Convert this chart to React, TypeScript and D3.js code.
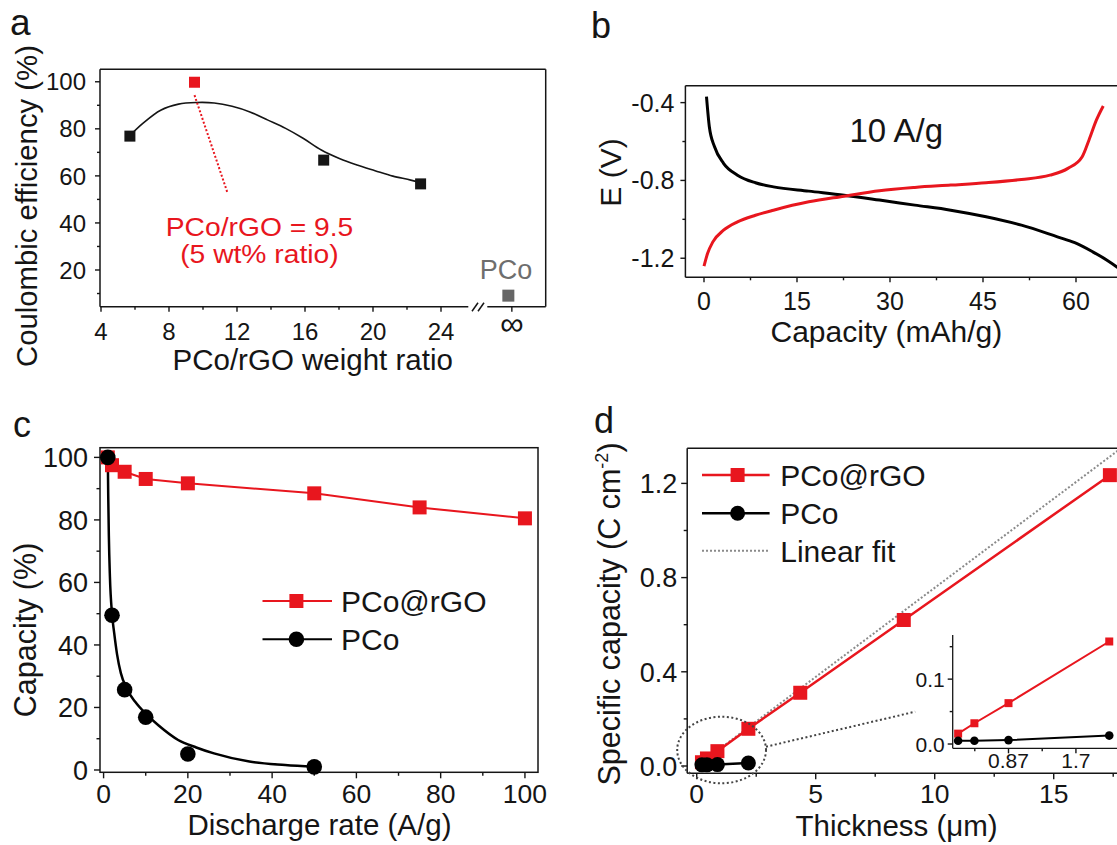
import React from "react";
import * as d3 from "d3";

const W = 1117;
const H = 845;
const RED = "#e8161e";
const INK = "#151515";
const FONT = "'Liberation Sans', Arial, Helvetica, sans-serif";

// ---------- Panel a data ----------
const aRatio = [5.7, 17.1, 22.8];
const aCE = [76.9, 66.7, 56.6];
const aBestRatio = [9.5];
const aBestCE = [99.8];
const aPCoCat = ["∞"];
const aPCoCE = [9.1];
const aFitX = [5.75, 6.46, 7.51, 8.56, 9.61, 10.66, 11.71, 12.76, 13.82, 14.86, 15.91, 16.96, 18.02, 19.06, 20.12, 21.17, 22.22, 22.9];
const aFitY = [77.5, 82.3, 87.9, 90.5, 91.2, 91.0, 89.6, 87.2, 83.7, 80.2, 75.9, 71.0, 67.4, 64.6, 62.2, 59.9, 58.2, 56.8];
const aLeaderX = [9.5, 11.45];
const aLeaderY = [94.3, 52.6];
const aXTicks = [4, 8, 12, 16, 20, 24];
const aXMinor = [6, 10, 14, 18, 22];
const aYTicks = [20, 40, 60, 80, 100];
const aYMinor = [10, 30, 50, 70, 90];

// ---------- Panel b data ----------
const bDisX = [0.4, 0.86, 1.7, 3.15, 5.4, 8.3, 11.2, 16.9, 22.6, 28.3, 34, 39.8, 45.5, 51.2, 57, 59.8, 62.7, 65, 66.6, 68];
const bDisY = [-0.369, -0.524, -0.627, -0.712, -0.773, -0.812, -0.833, -0.855, -0.876, -0.901, -0.927, -0.953, -0.987, -1.03, -1.09, -1.12, -1.167, -1.21, -1.245, -1.28];
const bChgX = [0, 0.57, 1.43, 3.15, 5.4, 8.3, 11.2, 16.9, 22.6, 28.3, 34, 39.8, 45.5, 51.2, 55.8, 58.7, 61, 62.1, 63.3, 64.4];
const bChgY = [-1.241, -1.176, -1.116, -1.056, -1.013, -0.979, -0.953, -0.91, -0.881, -0.853, -0.836, -0.824, -0.812, -0.795, -0.773, -0.738, -0.678, -0.592, -0.489, -0.417];
const bXTicks = [0, 15, 30, 45, 60];
const bXMinor = [7.5, 22.5, 37.5, 52.5, 67.5];
const bYTicks = [-1.2, -0.8, -0.4];
const bYMinor = [-1.0, -0.6];

// ---------- Panel c data ----------
const cRateRed = [1, 2, 5, 10, 20, 50, 75, 100];
const cCapRed = [100, 97.5, 95.4, 93.1, 91.7, 88.5, 84.0, 80.5];
const cRateBlack = [1, 2, 5, 10, 20, 50];
const cCapBlack = [100, 49.5, 25.7, 16.9, 5.1, 1.0];
const cFitX = [1.0, 1.1, 1.25, 1.5, 2.0, 2.5, 3.2, 4.1, 5.5, 7.5, 10, 13, 17.7, 22, 26.2, 34.6, 43.1, 50];
const cFitY = [100, 88, 75, 62, 50, 44, 37, 31, 26, 21.8, 18, 14.3, 9.6, 7.2, 5.3, 2.7, 1.6, 1.0];
const cXTicks = [0, 20, 40, 60, 80, 100];
const cXMinor = [10, 30, 50, 70, 90];
const cYTicks = [0, 20, 40, 60, 80, 100];
const cYMinor = [10, 30, 50, 70, 90];

// ---------- Panel d data ----------
const dThick = [0.22, 0.43, 0.87, 2.17, 4.35, 8.7, 17.36];
const dCapRed = [0.016, 0.032, 0.063, 0.158, 0.311, 0.62, 1.235];
const dThickBlack = [0.22, 0.43, 0.87, 2.17];
const dCapBlack = [0.005, 0.005, 0.006, 0.013];
const dFitX = [0, 17.8];
const dFitY = [0, 1.347];
const dXTicks = [0, 5, 10, 15];
const dXMinor = [2.5, 7.5, 12.5, 17.5];
const dYTicks = [0, 0.4, 0.8, 1.2];
const dYMinor = [0.2, 0.6, 1.0];
const iXTicks = [0.87, 1.74];
const iXLabels = ["0.87", "1.7"];
const iXMinor = [0.435, 1.305];
const iYTicks = [0, 0.1];
const iYMinor = [0.05, 0.15];

type TP = {
  x: number; y: number; size: number; children: React.ReactNode;
  anchor?: "start" | "middle" | "end"; fill?: string; rotate?: number; sx?: number;
};
function T({ x, y, size, children, anchor = "start", fill = INK, rotate = 0, sx = 1 }: TP) {
  const tr = `translate(${x},${y})` + (rotate ? ` rotate(${rotate})` : "") + (sx !== 1 ? ` scale(${sx},1)` : "");
  return (
    <text transform={tr} fontSize={size} textAnchor={anchor} fill={fill} fontFamily={FONT}>
      {children}
    </text>
  );
}

function LeftTicks({ x, scale, major, minor, fmt, size, gap = 12, len = 6, mlen = 3.5 }: any) {
  return (
    <g>
      {major.map((v: number, i: number) => (
        <g key={"M" + i}>
          <line x1={x - len} x2={x} y1={scale(v)} y2={scale(v)} stroke={INK} strokeWidth={1.4} />
          <T x={x - gap} y={scale(v) + size * 0.36} size={size} anchor="end">{fmt(v)}</T>
        </g>
      ))}
      {minor.map((v: number, i: number) => (
        <line key={"m" + i} x1={x - mlen} x2={x} y1={scale(v)} y2={scale(v)} stroke={INK} strokeWidth={1.4} />
      ))}
    </g>
  );
}

function BottomTicks({ y, scale, major, minor, fmt, size, base, len = 6, mlen = 3.5, labels }: any) {
  return (
    <g>
      {major.map((v: number, i: number) => (
        <g key={"M" + i}>
          <line x1={scale(v)} x2={scale(v)} y1={y} y2={y + len} stroke={INK} strokeWidth={1.4} />
          <T x={scale(v)} y={base} size={size} anchor="middle">{labels ? labels[i] : fmt(v)}</T>
        </g>
      ))}
      {minor.map((v: number, i: number) => (
        <line key={"m" + i} x1={scale(v)} x2={scale(v)} y1={y} y2={y + mlen} stroke={INK} strokeWidth={1.4} />
      ))}
    </g>
  );
}

function Square({ cx, cy, s, fill }: { cx: number; cy: number; s: number; fill: string }) {
  return <rect x={cx - s / 2} y={cy - s / 2} width={s} height={s} fill={fill} />;
}

export default function App() {
  // ---------- scales a ----------
  const aL = 100, aR = 545.7, aT = 69.3, aB = 306.7;
  const xA = d3.scaleLinear().domain([4, 24]).range([101, 441]);
  const xAInf = d3.scalePoint<string>().domain(aPCoCat).range([478, aR]).padding(0.5);
  const yA = d3.scaleLinear().domain([4.4, 105.3]).range([aB, aT]);
  const aFit = d3.line<number>().x((_, i) => xA(aFitX[i])).y((d) => yA(d)).curve(d3.curveCatmullRom.alpha(0.5))(aFitY) || "";
  const aLeader = d3.line<number>().x((_, i) => xA(aLeaderX[i])).y((d) => yA(d))(aLeaderY) || "";
  const breakX = 478;

  // ---------- scales b ----------
  const bL = 685.4, bT = 85.7, bB = 277.3;
  const xB = d3.scaleLinear().domain([-3, 70]).range([bL, bL + 73 * 6.2]);
  const yB = d3.scaleLinear().domain([-1.298, -0.313]).range([bB, bT]);
  const bDis = d3.line<number>().x((_, i) => xB(bDisX[i])).y((d) => yB(d)).curve(d3.curveMonotoneX)(bDisY) || "";
  const bChg = d3.line<number>().x((_, i) => xB(bChgX[i])).y((d) => yB(d)).curve(d3.curveMonotoneX)(bChgY) || "";

  // ---------- scales c ----------
  const cL = 100, cR = 538, cT = 447.7, cB = 772.3;
  const xC = d3.scaleLinear().domain([-0.85, 103.1]).range([cL, cR]);
  const yC = d3.scaleLinear().domain([-0.74, 103.1]).range([cB, cT]);
  const cRedPath = d3.line<number>().x((_, i) => xC(cRateRed[i])).y((d) => yC(d))(cCapRed) || "";
  const cFitPath = d3.line<number>().x((_, i) => xC(cFitX[i])).y((d) => yC(d)).curve(d3.curveMonotoneX)(cFitY) || "";

  // ---------- scales d ----------
  const dL = 687.2, dT = 448.3, dB = 773.3;
  const xD = d3.scaleLinear().domain([-0.4, 18.8]).range([dL, dL + 19.2 * 23.8]);
  const yD = d3.scaleLinear().domain([-0.031, 1.349]).range([dB, dT]);
  const dRedPath = d3.line<number>().x((_, i) => xD(dThick[i])).y((d) => yD(d))(dCapRed) || "";
  const dBlackPath = d3.line<number>().x((_, i) => xD(dThickBlack[i])).y((d) => yD(d))(dCapBlack) || "";
  const dFitPath = d3.line<number>().x((_, i) => xD(dFitX[i])).y((d) => yD(d))(dFitY) || "";
  // inset
  const iL = 952.7, iB = 748.3, iT = 635;
  const xI = d3.scaleLinear().domain([0.15, 2.27]).range([iL, W]);
  const yI = d3.scaleLinear().domain([-0.0066, 0.168]).range([iB, iT]);
  const iRedPath = d3.line<number>().x((_, i) => xI(dThick[i])).y((d) => yI(d))(dCapRed.slice(0, 4)) || "";
  const iBlackPath = d3.line<number>().x((_, i) => xI(dThickBlack[i])).y((d) => yI(d))(dCapBlack) || "";

  const fmt0 = (v: number) => String(v);
  const fmt1 = (v: number) => v.toFixed(1);

  return (
    <svg
      width={W}
      height={H}
      viewBox={`0 0 ${W} ${H}`}
      style={{ position: "absolute", left: 0, top: 0, background: "#fff" }}
      fontFamily={FONT}
    >
      <defs>
        <clipPath id="clipB">
          <rect x={bL} y={bT} width={W - bL} height={bB - bT} />
        </clipPath>
      </defs>
      <rect x={0} y={0} width={W} height={H} fill="#fff" />

      {/* ================= Panel a ================= */}
      <T x={10} y={35} size={37}>a</T>
      <g stroke={INK} strokeWidth={1.5} fill="none">
        <line x1={aL} x2={aR} y1={aT} y2={aT} />
        <line x1={aL} x2={aL} y1={aT} y2={aB} />
        <line x1={aR} x2={aR} y1={aT} y2={aB} />
        <line x1={aL} x2={breakX - 9.7} y1={aB} y2={aB} />
        <line x1={breakX + 9.3} x2={aR} y1={aB} y2={aB} />
        <line x1={breakX - 6} x2={breakX} y1={aB + 4.5} y2={aB - 4} />
        <line x1={breakX} x2={breakX + 6} y1={aB + 4.5} y2={aB - 4} />
      </g>
      <LeftTicks x={aL} scale={yA} major={aYTicks} minor={aYMinor} fmt={fmt0} size={24} gap={14} len={5} mlen={3} />
      <BottomTicks y={aB} scale={xA} major={aXTicks} minor={aXMinor} fmt={fmt0} size={24} base={339.5} len={5} mlen={3} />
      {aPCoCat.map((c) => (
        <g key={c}>
          <line x1={xAInf(c)} x2={xAInf(c)} y1={aB} y2={aB + 5} stroke={INK} strokeWidth={1.4} />
          <T x={xAInf(c)!} y={335} size={33} anchor="middle">{c}</T>
        </g>
      ))}
      <path d={aFit} fill="none" stroke={INK} strokeWidth={1.6} />
      <path d={aLeader} fill="none" stroke={RED} strokeWidth={2} strokeDasharray="2,2" />
      {aRatio.map((r, i) => (
        <Square key={i} cx={xA(r)} cy={yA(aCE[i])} s={11} fill={INK} />
      ))}
      {aBestRatio.map((r, i) => (
        <Square key={i} cx={xA(r)} cy={yA(aBestCE[i])} s={11} fill={RED} />
      ))}
      {aPCoCat.map((c, i) => (
        <Square key={c} cx={xAInf(c)! - 3.5} cy={yA(aPCoCE[i])} s={12} fill="#666" />
      ))}
      <T x={506} y={279.3} size={27} anchor="middle" fill="#6e6e6e">PCo</T>
      <T x={259.5} y={235.7} size={25} anchor="middle" fill={RED} sx={1.13}>PCo/rGO = 9.5</T>
      <T x={259.4} y={262.5} size={25} anchor="middle" fill={RED} sx={1.13}>(5 wt% ratio)</T>
      <T x={312.7} y={370} size={29.5} anchor="middle">PCo/rGO weight ratio</T>
      <T x={37} y={206} size={29.3} anchor="middle" rotate={-90}>Coulombic efficiency (%)</T>

      {/* ================= Panel b ================= */}
      <T x={591} y={38} size={36}>b</T>
      <g stroke={INK} strokeWidth={1.5}>
        <line x1={bL} x2={W} y1={bT} y2={bT} />
        <line x1={bL} x2={bL} y1={bT} y2={bB} />
        <line x1={bL} x2={W} y1={bB} y2={bB} />
      </g>
      <LeftTicks x={bL} scale={yB} major={bYTicks} minor={bYMinor} fmt={fmt1} size={25} gap={11} len={5} mlen={3} />
      <BottomTicks y={bB} scale={xB} major={bXTicks} minor={bXMinor} fmt={fmt0} size={25} base={310} len={5} mlen={3} />
      <g clipPath="url(#clipB)">
        <path d={bDis} fill="none" stroke="#000" strokeWidth={3} />
        <path d={bChg} fill="none" stroke={RED} strokeWidth={3} />
      </g>
      <T x={849.5} y={141.7} size={33}>10 A/g</T>
      <T x={886.4} y={341.7} size={30} anchor="middle">Capacity (mAh/g)</T>
      <T x={621} y={172.5} size={30} anchor="middle" rotate={-90}>E (V)</T>

      {/* ================= Panel c ================= */}
      <T x={13} y={437} size={36}>c</T>
      <rect x={cL} y={cT} width={cR - cL} height={cB - cT} fill="none" stroke={INK} strokeWidth={1.5} />
      <LeftTicks x={cL} scale={yC} major={cYTicks} minor={cYMinor} fmt={fmt0} size={27} gap={12} len={6} mlen={3.5} />
      <BottomTicks y={cB} scale={xC} major={cXTicks} minor={cXMinor} fmt={fmt0} size={26.5} base={803} len={6} mlen={3.5} />
      <path d={cRedPath} fill="none" stroke={RED} strokeWidth={2} />
      <path d={cFitPath} fill="none" stroke="#000" strokeWidth={2.5} />
      {cRateRed.map((r, i) => (
        <Square key={i} cx={xC(r)} cy={yC(cCapRed[i])} s={14} fill={RED} />
      ))}
      {cRateBlack.map((r, i) => (
        <circle key={i} cx={xC(r)} cy={yC(cCapBlack[i])} r={7.8} fill="#000" />
      ))}
      {/* legend c */}
      <line x1={262.5} x2={332} y1={601} y2={601} stroke={RED} strokeWidth={2} />
      <Square cx={296.4} cy={601} s={14} fill={RED} />
      <T x={341} y={611.7} size={30}>PCo@rGO</T>
      <line x1={262.5} x2={332} y1={639.3} y2={639.3} stroke="#000" strokeWidth={2} />
      <circle cx={296.4} cy={639.3} r={7.8} fill="#000" />
      <T x={341} y={650} size={30}>PCo</T>
      <T x={319.5} y={835} size={29.5} anchor="middle">Discharge rate (A/g)</T>
      <T x={36} y={630} size={30.5} anchor="middle" rotate={-90}>Capacity (%)</T>

      {/* ================= Panel d ================= */}
      <T x={594} y={433} size={36}>d</T>
      <g stroke={INK} strokeWidth={1.5}>
        <line x1={dL} x2={W} y1={dT} y2={dT} />
        <line x1={dL} x2={dL} y1={dT} y2={dB} />
        <line x1={dL} x2={W} y1={dB} y2={dB} />
      </g>
      <LeftTicks x={dL} scale={yD} major={dYTicks} minor={dYMinor} fmt={fmt1} size={27} gap={10} len={6} mlen={3.5} />
      <BottomTicks y={dB} scale={xD} major={dXTicks} minor={dXMinor} fmt={fmt0} size={26.5} base={803} len={6} mlen={3.5} />
      <path d={dFitPath} fill="none" stroke="#8a8a8a" strokeWidth={2} strokeDasharray="2,2" />
      <path d={dRedPath} fill="none" stroke={RED} strokeWidth={2.5} />
      <path d={dBlackPath} fill="none" stroke="#000" strokeWidth={2.5} />
      {dThick.map((t, i) => (
        <Square key={i} cx={xD(t)} cy={yD(dCapRed[i])} s={14} fill={RED} />
      ))}
      {dThickBlack.map((t, i) => (
        <circle key={i} cx={xD(t)} cy={yD(dCapBlack[i])} r={7.5} fill="#000" />
      ))}
      {/* zoom marker */}
      <ellipse cx={721.6} cy={750} rx={44.4} ry={33.3} fill="none" stroke="#444" strokeWidth={2} strokeDasharray="2,2.5" />
      <line x1={766} y1={746.7} x2={915.2} y2={711.7} stroke="#444" strokeWidth={2} strokeDasharray="2,2.5" />
      {/* inset */}
      <g stroke={INK} strokeWidth={1.3}>
        <line x1={iL} x2={iL} y1={iT} y2={iB} />
        <line x1={iL} x2={W} y1={iB} y2={iB} />
      </g>
      <LeftTicks x={iL} scale={yI} major={iYTicks} minor={iYMinor} fmt={fmt1} size={21} gap={8} len={5} mlen={3} />
      <BottomTicks y={iB} scale={xI} major={iXTicks} minor={iXMinor} fmt={fmt0} labels={iXLabels} size={21} base={768.3} len={5} mlen={3} />
      <path d={iRedPath} fill="none" stroke={RED} strokeWidth={2} />
      <path d={iBlackPath} fill="none" stroke="#000" strokeWidth={2} />
      {dThick.slice(0, 4).map((t, i) => (
        <Square key={i} cx={xI(t)} cy={yI(dCapRed[i])} s={8} fill={RED} />
      ))}
      {dThickBlack.map((t, i) => (
        <circle key={i} cx={xI(t)} cy={yI(dCapBlack[i])} r={4.3} fill="#000" />
      ))}
      {/* legend d */}
      <line x1={702} x2={769.6} y1={475} y2={475} stroke={RED} strokeWidth={2.5} />
      <Square cx={737.6} cy={475} s={14} fill={RED} />
      <T x={780.2} y={486} size={30}>PCo@rGO</T>
      <line x1={702} x2={769.6} y1={513.3} y2={513.3} stroke="#000" strokeWidth={2.5} />
      <circle cx={737.6} cy={513.3} r={7.5} fill="#000" />
      <T x={780.2} y={523.5} size={30}>PCo</T>
      <line x1={702} x2={769.6} y1={550.7} y2={550.7} stroke="#8a8a8a" strokeWidth={2} strokeDasharray="2,2" />
      <T x={780.2} y={561.5} size={30}>Linear fit</T>
      <T x={896.6} y={836} size={29.5} anchor="middle">Thickness (μm)</T>
      <text transform="translate(620,614) rotate(-90)" fontSize={30.5} textAnchor="middle" fill={INK} fontFamily={FONT}>
        Specific capacity (C cm
        <tspan dy={-12} fontSize={18}>-2</tspan>
        <tspan dy={12}>)</tspan>
      </text>
    </svg>
  );
}
